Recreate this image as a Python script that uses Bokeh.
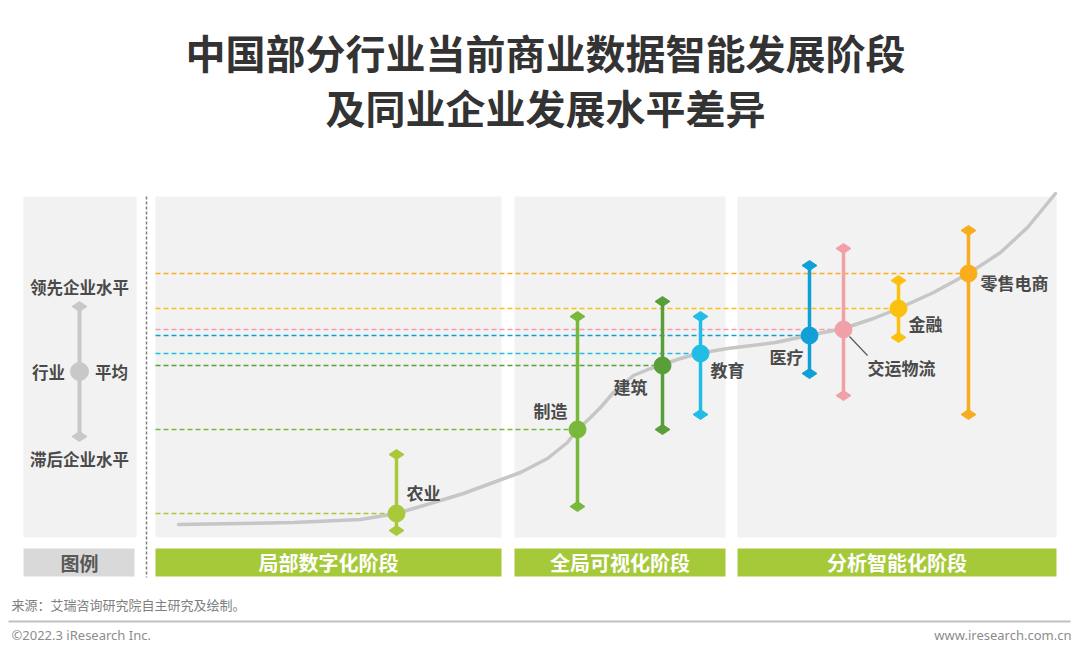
from bokeh.plotting import figure
from bokeh.models import Range1d, ColumnDataSource
from bokeh.core.properties import value
from bokeh.embed import file_html
from bokeh.resources import INLINE
import math

# ---------------- data ----------------
industries = ["农业", "制造", "建筑", "教育", "医疗", "交运物流", "金融", "零售电商"]
position = [396, 577, 662, 700, 809, 843, 898, 968]          # position along the maturity axis
avg_level = [24, 108, 172, 184, 202, 208, 229, 264]          # industry average
low_level = [7, 31, 108, 123, 164, 142, 200, 123]            # lagging firms
high_level = [83, 221, 236, 221, 272, 289, 257, 307]         # leading firms
colors = ["#a9c83c", "#78b83a", "#5a9e3a", "#22bde6", "#10a0d8", "#f2a0a8", "#fcc10f", "#f9ad1c"]

curve_x = [178, 240, 293, 360, 396, 430, 463, 490, 520, 547, 567, 576, 590, 600, 613, 633,
           650, 662, 680, 698, 727, 760, 775, 808, 843, 873, 898, 933, 968, 1000, 1027, 1055]
curve_y = [13, 14, 15, 18, 24, 34, 44, 54, 65, 79, 95, 107, 120, 130, 145, 162,
           169, 173, 179, 184, 189, 193, 195, 202, 209, 219, 229, 245, 264, 285, 310, 344]

stages = ["局部数字化阶段", "全局可视化阶段", "分析智能化阶段"]
stage_left = [155, 514, 737]
stage_right = [501, 725, 1056]

title_lines = ["中国部分行业当前商业数据智能发展阶段", "及同业企业发展水平差异"]

# label offsets (style/layout)
label_dx = [27, -27, -32, 27, -23, 58, 27, 46]
label_dy = [21, 19, -21, -16, -21, -38, -15, -9]

FONT = "Noto Sans CJK SC"
BASE = 537  # image row of panel bottom


def Y(img_y):
    return BASE - img_y


p = figure(width=1080, height=656, output_backend="svg", toolbar_location=None,
           x_range=Range1d(0, 1080), y_range=Range1d(Y(656), Y(0)),
           min_border=0, outline_line_color=None, background_fill_color="white")
p.axis.visible = False
p.grid.visible = False

# panels
p.quad(left=[23] + stage_left, right=[136] + stage_right,
       bottom=[Y(537)] * 4, top=[Y(196)] * 4, fill_color="#f2f2f2", line_color=None)
# stage bars
p.quad(left=stage_left, right=stage_right, bottom=[Y(576)] * 3, top=[Y(548)] * 3,
       fill_color="#a6c93a", line_color=None)
p.quad(left=[23], right=[134], bottom=[Y(576)], top=[Y(548)], fill_color="#d9d9d9", line_color=None)
p.text(x=[(l + r) / 2 for l, r in zip(stage_left, stage_right)], y=[Y(562)] * 3, text=stages,
       text_font=value(FONT), text_font_style="bold", text_font_size="20px",
       text_color="white", text_align="center", text_baseline="middle")
p.text(x=[79], y=[Y(562)], text=["图例"], text_font=value(FONT), text_font_style="bold",
       text_font_size="19px", text_color="#595959", text_align="center", text_baseline="middle")

# vertical dashed separator
p.segment(x0=[146], y0=[Y(196)], x1=[146], y1=[Y(577)], line_color="#7f7f7f",
          line_width=1.5, line_dash="3 2")

# horizontal dashed reference lines
p.segment(x0=[155] * len(position), y0=avg_level, x1=position, y1=avg_level,
          line_color=colors, line_width=1.6, line_dash="5 3")

# trend curve
p.line(curve_x, curve_y, line_color="#c6c6c6", line_width=3.5, line_cap="round", line_join="round")

# error bars
src = ColumnDataSource(dict(x=position, avg=avg_level, lo=low_level, hi=high_level, c=colors))
p.segment(x0="x", y0="lo", x1="x", y1="hi", source=src, line_color="c", line_width=3.5)
p.scatter(x="x", y="lo", source=src, marker="diamond", size=15, angle=math.pi / 2,
          fill_color="c", line_color="c")
p.scatter(x="x", y="hi", source=src, marker="diamond", size=15, angle=math.pi / 2,
          fill_color="c", line_color="c")
p.scatter(x="x", y="avg", source=src, marker="circle", size=17, fill_color="c", line_color="c")

# leader line for 交运物流
i = industries.index("交运物流")
p.segment(x0=[position[i] + 6], y0=[avg_level[i] - 7], x1=[position[i] + 24], y1=[avg_level[i] - 26],
          line_color="#595959", line_width=1.2)

# industry labels
p.text(x=[x + dx for x, dx in zip(position, label_dx)],
       y=[a + dy for a, dy in zip(avg_level, label_dy)], text=industries,
       text_font=value(FONT), text_font_style="bold", text_font_size="17px",
       text_color="#4a4a4a", text_align="center", text_baseline="middle")

# legend glyph
p.segment(x0=[79], y0=[Y(306)], x1=[79], y1=[Y(436)], line_color="#c8c8c8", line_width=4)
p.scatter(x=[79, 79], y=[Y(306), Y(436)], marker="diamond", size=15, angle=math.pi / 2,
          fill_color="#c8c8c8", line_color="#c8c8c8")
p.scatter(x=[79], y=[Y(371)], marker="circle", size=18, fill_color="#c8c8c8", line_color="#c8c8c8")
p.text(x=[79, 79, 48, 111], y=[Y(286), Y(458), Y(371), Y(371)],
       text=["领先企业水平", "滞后企业水平", "行业", "平均"],
       text_font=value(FONT), text_font_style="bold", text_font_size="16.5px",
       text_color="#4a4a4a", text_align="center", text_baseline="middle")

# title
p.text(x=[545, 545], y=[Y(51), Y(106)], text=title_lines, text_font=value(FONT),
       text_font_style="bold", text_font_size="40px", text_color="#333333",
       text_align="center", text_baseline="middle")

# footer
p.text(x=[11], y=[Y(604)], text=["来源：艾瑞咨询研究院自主研究及绘制。"], text_font=value(FONT),
       text_font_size="13px", text_color="#7f7f7f", text_align="left", text_baseline="middle")
p.segment(x0=[8], y0=[Y(621)], x1=[1070], y1=[Y(621)], line_color="#bfbfbf", line_width=2)
p.text(x=[11], y=[Y(634)], text=["©2022.3 iResearch Inc."], text_font=value("Noto Sans"),
       text_font_size="13px", text_color="#8c8c8c", text_align="left", text_baseline="middle")
p.text(x=[1071], y=[Y(634)], text=["www.iresearch.com.cn"], text_font=value("Noto Sans"),
       text_font_size="13px", text_color="#8c8c8c", text_align="right", text_baseline="middle")

open("out.html", "w").write(file_html(p, INLINE))
